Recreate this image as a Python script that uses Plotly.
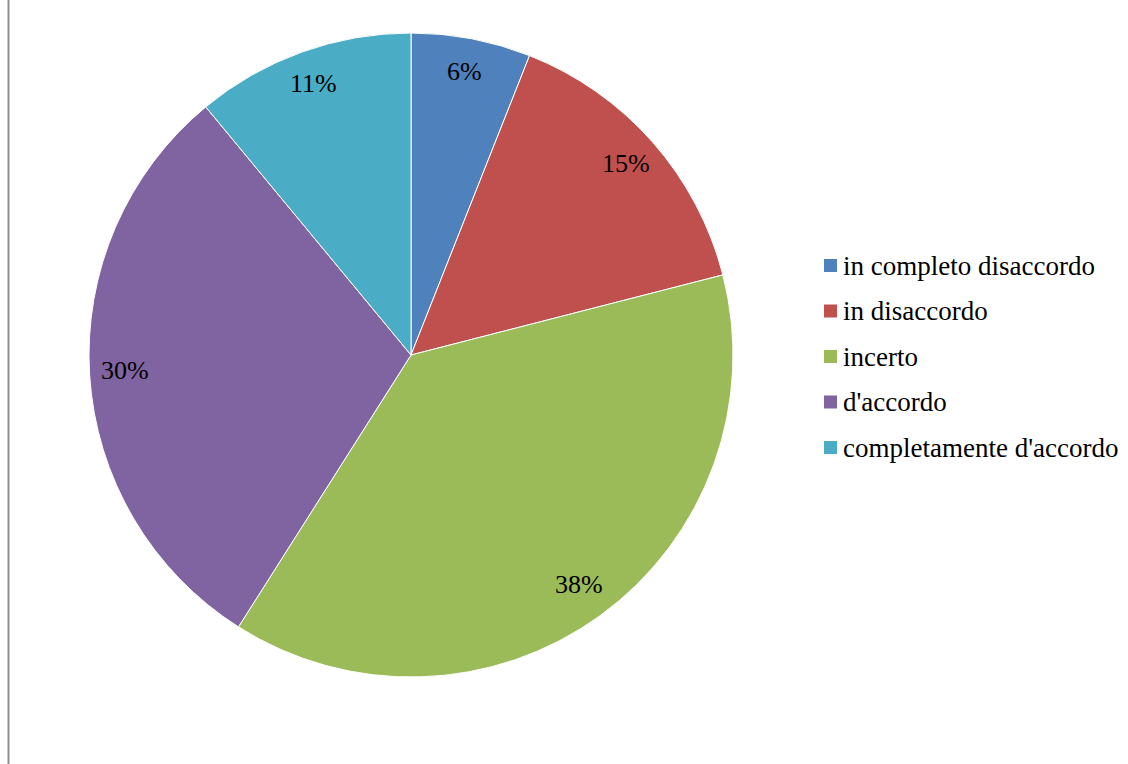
import math
import plotly.graph_objects as go

# Survey responses (share of respondents, %)
labels = ["in completo disaccordo", "in disaccordo", "incerto", "d'accordo", "completamente d'accordo"]
values = [6, 15, 38, 30, 11]
colors = ["#4F81BD", "#C0504D", "#9BBB59", "#8064A2", "#4BACC6"]

W, H = 1128, 764
FONT = "'Liberation Serif', 'Times New Roman', serif"

# pie geometry in pixels
cx, cy, R = 411, 355, 322


def px(x):
    return x / W


def py(y):
    return 1 - y / H


fig = go.Figure()
fig.add_trace(go.Pie(
    labels=labels,
    values=values,
    sort=False,
    direction="clockwise",
    rotation=0,
    marker=dict(colors=colors, line=dict(color="white", width=1)),
    textinfo="none",
    hoverinfo="label+percent",
    showlegend=False,
    domain=dict(x=[px(cx - R), px(cx + R)], y=[py(cy + R), py(cy - R)]),
))

annotations = []
shapes = []

# percentage labels placed near the outer edge at each slice's mid-angle
total = sum(values)
cum = 0
for v in values:
    mid = (cum + v / 2) / total * 2 * math.pi
    cum += v
    lx = cx + 0.89 * R * math.sin(mid)
    ly = cy - 0.89 * R * math.cos(mid) - 2
    annotations.append(dict(
        x=px(lx), y=py(ly), xref="paper", yref="paper",
        text=f"{v}%", showarrow=False,
        xanchor="center", yanchor="middle",
        font=dict(family=FONT, size=26, color="black"),
    ))

# legend entries
leg_x, leg_y0, leg_dy, sq = 824, 265.5, 45.5, 13
for i, (lab, col) in enumerate(zip(labels, colors)):
    yc = leg_y0 + i * leg_dy
    shapes.append(dict(
        type="rect", xref="paper", yref="paper",
        x0=px(leg_x), x1=px(leg_x + sq), y0=py(yc + sq / 2), y1=py(yc - sq / 2),
        fillcolor=col, line=dict(width=0),
    ))
    annotations.append(dict(
        x=px(leg_x + sq + 4), y=py(yc), xref="paper", yref="paper",
        text=lab, showarrow=False, xanchor="left", yanchor="middle",
        font=dict(family=FONT, size=27, color="black"),
    ))

# chart frame edge on the left
shapes.append(dict(
    type="line", xref="paper", yref="paper",
    x0=px(8.5), x1=px(8.5), y0=0, y1=1,
    line=dict(color="#8f8f8f", width=2),
))

fig.update_layout(
    width=W, height=H,
    margin=dict(l=0, r=0, t=0, b=0),
    paper_bgcolor="white",
    plot_bgcolor="white",
    font=dict(family=FONT),
    annotations=annotations,
    shapes=shapes,
)

fig.write_html("out.html")
